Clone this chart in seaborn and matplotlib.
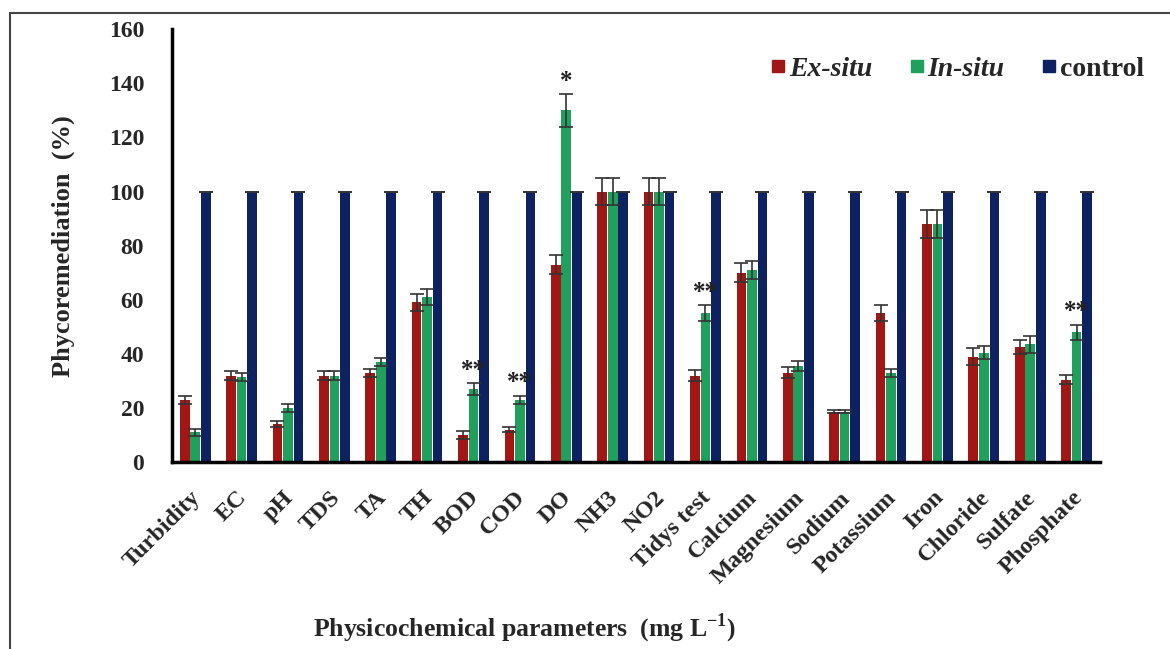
import numpy as np
import pandas as pd
import seaborn as sns
import matplotlib.pyplot as plt
import matplotlib.transforms as mtransforms
from matplotlib.lines import Line2D

params = ["Turbidity", "EC", "pH", "TDS", "TA", "TH", "BOD", "COD", "DO", "NH3",
          "NO2", "Tidys test", "Calcium", "Magnesium", "Sodium", "Potassium",
          "Iron", "Chloride", "Sulfate", "Phosphate"]
ex_situ = [23, 32, 14, 32, 33, 59, 10, 12, 73, 100, 100, 32, 70, 33, 18.6, 55, 88, 39, 42.5, 30.5]
ex_err = [1.5, 1.5, 1.2, 1.5, 1.5, 3, 1.5, 1, 3.5, 5, 5, 2, 3.5, 2, 0.5, 3, 5, 3, 2.5, 1.7]
in_situ = [11, 31.5, 20, 32, 37, 61, 27, 23, 130, 100, 100, 55, 71, 35.5, 18.6, 33, 88, 40.5, 43.5, 48]
in_err = [1.2, 1.5, 1.5, 1.5, 1.5, 3, 2.2, 1.5, 6, 5, 5, 3, 3.5, 2, 0.5, 1.5, 5, 2.5, 3, 2.8]
control = [100] * 20
ctrl_err = [0] * 20
stars = {"BOD": "**", "COD": "**", "DO": "*", "Tidys test": "**", "Phosphate": "**"}

groups = ["Ex-situ", "In-situ", "control"]
colors = ["#a31616", "#20a05c", "#0e2160"]

df = pd.DataFrame({
    "param": params * 3,
    "group": [g for g in groups for _ in params],
    "value": ex_situ + in_situ + control,
})

sns.set_style("white")
plt.rcParams["font.family"] = ["Liberation Serif", "DejaVu Serif"]
plt.rcParams["font.weight"] = "bold"
plt.rcParams["mathtext.fontset"] = "custom"
plt.rcParams["mathtext.rm"] = "Liberation Serif:bold"
plt.rcParams["mathtext.bf"] = "Liberation Serif:bold"

fig = plt.figure(figsize=(11.7, 6.49), dpi=100)
ax = fig.add_axes([0.147, 0.288, 0.793, 0.667])

sns.barplot(data=df, x="param", y="value", hue="group", palette=colors,
            errorbar=None, width=0.68, gap=0.08, edgecolor="none",
            saturation=1, ax=ax)

errs = [ex_err, in_err, ctrl_err]
for cont, err in zip(ax.containers, errs):
    xs = [b.get_x() + b.get_width() / 2 for b in cont]
    ys = [b.get_height() for b in cont]
    ax.errorbar(xs, ys, yerr=err, fmt="none", ecolor="#333333",
                elinewidth=1.2, capsize=5, capthick=1.2)

green = ax.containers[1]
for i, p in enumerate(params):
    if p in stars:
        b = green[i]
        ax.text(b.get_x() + b.get_width() / 2, in_situ[i] + in_err[i] + 0.5,
                stars[p], ha="center", va="bottom", fontsize=18,
                color="#222222")

ax.set_ylim(0, 160)
ax.set_yticks(range(0, 161, 20))
ax.set_xlim(-0.5, len(params) - 0.5)
ax.tick_params(axis="y", length=0, pad=20, labelsize=17)
ax.tick_params(axis="x", length=0, pad=18, labelsize=17.5)
shift = mtransforms.ScaledTranslation(-5 / 100, 0, fig.dpi_scale_trans)
for lab in ax.get_xticklabels():
    lab.set_rotation(45)
    lab.set_ha("right")
    lab.set_rotation_mode("anchor")
    lab.set_fontweight("bold")
    lab.set_transform(lab.get_transform() + shift)
plt.setp(ax.get_yticklabels(), fontweight="bold")

sns.despine(ax=ax)
for s in ["left", "bottom"]:
    ax.spines[s].set_linewidth(2.5)
    ax.spines[s].set_color("black")

ax.set_ylabel("Phycoremediation  (%)", fontsize=19, fontweight="bold")
ax.set_xlabel(r"Physicochemical parameters  (mg L$^{-1}$)", fontsize=18.5,
              fontweight="bold")
ax.xaxis.set_label_coords(0.38, -0.345)
ax.yaxis.set_label_coords(-0.105, 0.5)

handles = [Line2D([], [], marker="s", linestyle="none", markersize=9,
                  color=c) for c in colors]
leg = ax.legend(handles, groups, loc="upper right", ncol=3, frameon=False,
                fontsize=20, handletextpad=-0.2, columnspacing=1.0,
                handlelength=1.2, bbox_to_anchor=(1.075, 0.995))
for t in leg.get_texts()[:2]:
    t.set_fontstyle("italic")

# outer frame
fig.add_artist(Line2D([10 / 1170, 10 / 1170], [0, 1 - 13 / 649],
                      transform=fig.transFigure, color="#444444", lw=1.5))
fig.add_artist(Line2D([10 / 1170, 1], [1 - 13 / 649, 1 - 13 / 649],
                      transform=fig.transFigure, color="#444444", lw=1.5))

fig.savefig("out.png", dpi=100)
